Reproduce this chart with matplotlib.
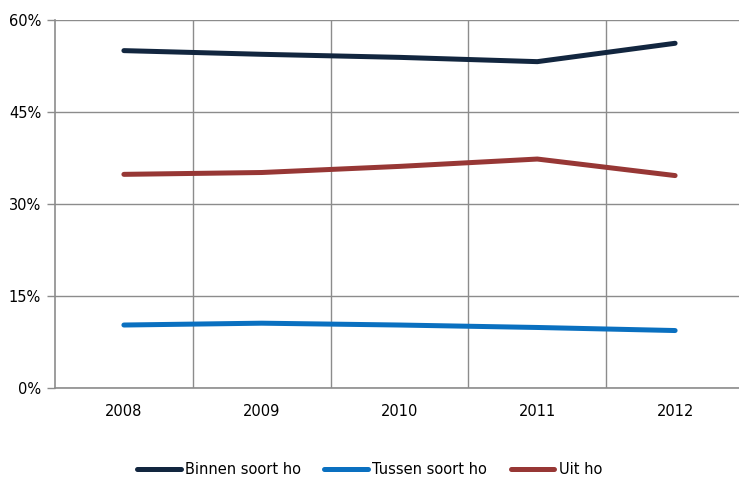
import matplotlib
matplotlib.use("Agg")
import matplotlib.pyplot as plt
from matplotlib.ticker import FuncFormatter

years = ["2008", "2009", "2010", "2011", "2012"]
binnen = [55.0, 54.4, 53.9, 53.2, 56.2]
tussen = [10.2, 10.5, 10.2, 9.8, 9.3]
uit = [34.8, 35.1, 36.1, 37.3, 34.6]
series_names = ["Binnen soort ho", "Tussen soort ho", "Uit ho"]
colors = ["#12263f", "#0a70c0", "#973735"]

W, H = 739, 482
fig = plt.figure(figsize=(W / 100, H / 100), dpi=100)
left, right, top, bottom = 55, 744, 20, 387.5
ax = fig.add_axes([left / W, (H - bottom) / H, (right - left) / W, (bottom - top) / H])

x = list(range(len(years)))
for vals, name, c in zip([binnen, tussen, uit], series_names, colors):
    ax.plot(x, vals, color=c, lw=3.6, solid_capstyle="round", label=name, zorder=3)

ax.set_xlim(-0.5, 4.5)
ax.set_ylim(0, 60)
ax.set_yticks([0, 15, 30, 45, 60])
ax.yaxis.set_major_formatter(FuncFormatter(lambda v, p: f"{int(v)}%"))
ax.set_xticks(x)
ax.set_xticklabels(years)
ax.set_xticks([0.5, 1.5, 2.5, 3.5], minor=True)

grid_c = "#8c8c8c"
ax.grid(axis="y", which="major", color=grid_c, lw=1.0, zorder=1)
ax.grid(axis="x", which="minor", color=grid_c, lw=1.0, zorder=1)
ax.grid(axis="x", which="major", visible=False)

for s in ["top", "right"]:
    ax.spines[s].set_visible(False)
for s in ["left", "bottom"]:
    ax.spines[s].set_color(grid_c)
    ax.spines[s].set_linewidth(1.2)

ax.tick_params(axis="y", which="major", length=6, width=1.0, color=grid_c, labelsize=10.5, pad=4)
ax.tick_params(axis="x", which="both", length=0, labelsize=10.5, pad=12)

handles, labels = ax.get_legend_handles_labels()
fig.legend(handles, labels, loc="center", bbox_to_anchor=(0.5, 1 - 470 / H), ncol=3,
           frameon=False, fontsize=10.5, handlelength=3.0, handletextpad=0.3, columnspacing=1.6)

fig.savefig("out.png", dpi=100)
